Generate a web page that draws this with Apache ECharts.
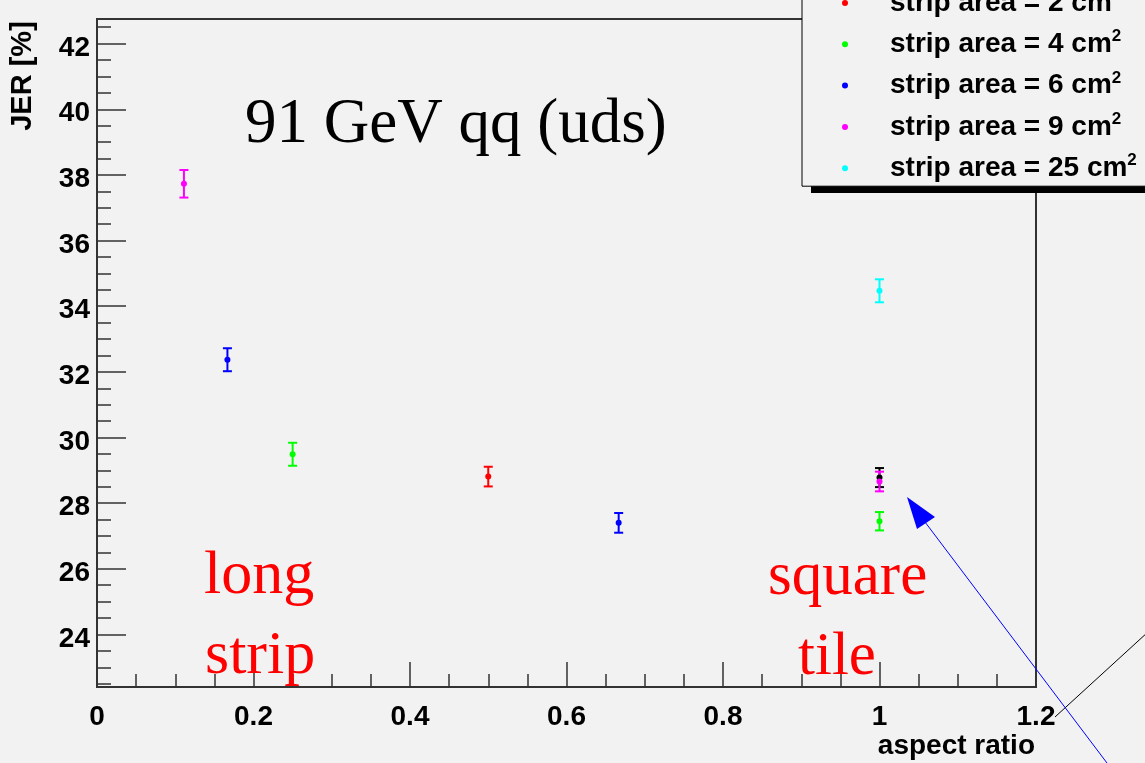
<!DOCTYPE html>
<html>
<head>
<meta charset="utf-8">
<script src="https://cdn.jsdelivr.net/npm/echarts@6/dist/echarts.min.js"></script>
<style>
	html, body { margin: 0; padding: 0; background: #f2f2f2; }
	#main { width: 1145px; height: 763px; }
</style>
</head>
<body>
<div id='main'></div>
<script>
// aspect ratio, JER [%] and its error, one set per strip area
var area1X = [1]
var area1Y = [28.78]
var area1Err = [0.29]

var area2X = [0.5]
var area2Y = [28.81]
var area2Err = [0.3]

var area4X = [0.25, 1]
var area4Y = [29.49, 27.45]
var area4Err = [0.35, 0.28]

var area6X = [1 / 6, 2 / 3]
var area6Y = [32.37, 27.4]
var area6Err = [0.35, 0.3]

var area9X = [1 / 9, 1]
var area9Y = [37.73, 28.66]
var area9Err = [0.42, 0.3]

var area25X = [1]
var area25Y = [34.47]
var area25Err = [0.35]

var xTicks = [0, 0.2, 0.4, 0.6, 0.8, 1, 1.2]
var yTicks = [24, 26, 28, 30, 32, 34, 36, 38, 40, 42]
var yMinorTicks = []
for (var t = 22.5; t <= 42.5; t += 0.5) {
	if (t % 2 !== 0) yMinorTicks.push(t)
}

var sans = '"Liberation Sans", Arial, sans-serif'
var serif = '"Liberation Serif", "Times New Roman", serif'

var groups = [
	{ name: 'strip area = 1 cm²', color: '#000000', x: area1X, y: area1Y, err: area1Err },
	{ name: 'strip area = 2 cm²', color: '#ff0000', x: area2X, y: area2Y, err: area2Err },
	{ name: 'strip area = 4 cm²', color: '#00ff00', x: area4X, y: area4Y, err: area4Err },
	{ name: 'strip area = 6 cm²', color: '#0000ff', x: area6X, y: area6Y, err: area6Err },
	{ name: 'strip area = 9 cm²', color: '#ff00ff', x: area9X, y: area9Y, err: area9Err },
	{ name: 'strip area = 25 cm²', color: '#00ffff', x: area25X, y: area25Y, err: area25Err },
]
var legendNames = groups.slice(1).map(function (g) {
	return g.name
})

function errorBar(params, api) {
	var x = api.value(0)
	var y = api.value(1)
	var e = api.value(2)
	var top = api.coord([x, y + e])
	var bot = api.coord([x, y - e])
	var hw = 4.5
	var style = { stroke: api.visual('color'), lineWidth: 2 }
	return {
		type: 'group',
		children: [
			{ type: 'line', shape: { x1: top[0], y1: top[1], x2: bot[0], y2: bot[1] }, style: style },
			{ type: 'line', shape: { x1: top[0] - hw, y1: top[1], x2: top[0] + hw, y2: top[1] }, style: style },
			{ type: 'line', shape: { x1: bot[0] - hw, y1: bot[1], x2: bot[0] + hw, y2: bot[1] }, style: style },
		],
	}
}

var series = []
groups.forEach(function (g) {
	var rows = g.x.map(function (x, i) {
		return [x, g.y[i], g.err[i]]
	})
	series.push({
		name: g.name + ' err',
		type: 'custom',
		renderItem: errorBar,
		itemStyle: { color: g.color },
		data: rows,
		z: 3,
	})
	series.push({
		name: g.name,
		type: 'scatter',
		symbol: 'circle',
		symbolSize: 6,
		itemStyle: { color: g.color, opacity: 1 },
		data: rows,
		z: 4,
	})
})

var axisColor = '#333333'

var chart = echarts.init(document.getElementById('main'))
var option = {
	animation: false,
	backgroundColor: '#f2f2f2',
	grid: {
		left: 97,
		right: 109,
		top: 19,
		bottom: 76,
		show: true,
		borderColor: axisColor,
		borderWidth: 2,
		backgroundColor: 'transparent',
	},
	legend: {
		data: legendNames,
		orient: 'vertical',
		left: 802,
		top: -23,
		padding: [10, 60, 4, 40],
		itemGap: 11.3,
		itemWidth: 80,
		itemHeight: 6,
		icon: 'circle',
		backgroundColor: '#f2f2f2',
		borderColor: '#000',
		borderWidth: 1,
		z: 6,
		formatter: function (name) {
			return '{a|' + name.slice(0, -1) + '}{sup|2}'
		},
		textStyle: {
			color: '#000',
			rich: {
				a: { fontFamily: sans, fontWeight: 'bold', fontSize: 28, lineHeight: 32, color: '#000' },
				sup: { fontFamily: sans, fontWeight: 'bold', fontSize: 17, verticalAlign: 'top', color: '#000' },
			},
		},
	},
	xAxis: {
		type: 'value',
		min: 0,
		max: 1.2,
		interval: 0.2,
		axisLine: { lineStyle: { color: axisColor, width: 2 } },
		axisTick: { inside: true, length: 25, lineStyle: { color: axisColor, width: 1.5 } },
		minorTick: { show: true, splitNumber: 4, length: 13, lineStyle: { color: axisColor, width: 1.5 } },
		splitLine: { show: false },
		axisLabel: {
			margin: 16,
			color: '#000',
			fontFamily: sans,
			fontWeight: 'bold',
			fontSize: 28,
			customValues: xTicks,
		},
	},
	yAxis: [
		{
			type: 'value',
			min: 22.4,
			max: 42.75,
			axisLine: { show: true, lineStyle: { color: axisColor, width: 2 } },
			axisTick: { inside: true, length: 29, customValues: yTicks, lineStyle: { color: axisColor, width: 1.5 } },
			splitLine: { show: false },
			axisLabel: {
				customValues: yTicks,
				margin: 7,
				verticalAlign: 'top',
				lineHeight: 9,
				color: '#000',
				fontFamily: sans,
				fontWeight: 'bold',
				fontSize: 28,
			},
		},
		{
			type: 'value',
			min: 22.4,
			max: 42.75,
			position: 'left',
			axisLine: { show: false },
			axisTick: { show: true, inside: true, length: 14, customValues: yMinorTicks, lineStyle: { color: axisColor, width: 1.5 } },
			splitLine: { show: false },
			axisLabel: { show: false },
		},
	],
	graphic: [
		// solid drop shadow under the legend box
		{
			type: 'rect',
			z: 5,
			shape: { x: 811, y: -40, width: 400, height: 233 },
			style: { fill: '#000' },
		},
		{
			type: 'text',
			x: 23,
			y: 76,
			rotation: Math.PI / 2,
			z: 10,
			style: { text: 'JER [%]', fill: '#000', font: 'bold 29px ' + sans, textAlign: 'center', textVerticalAlign: 'middle', align: 'center', verticalAlign: 'middle' },
		},
		{
			type: 'text',
			x: 1035,
			y: 746,
			z: 10,
			style: { text: 'aspect ratio', fill: '#000', font: 'bold 28px ' + sans, textAlign: 'right', textVerticalAlign: 'middle', align: 'right', verticalAlign: 'middle' },
		},
		{
			type: 'text',
			x: 245,
			y: 125,
			z: 10,
			style: { text: '91 GeV qq (uds)', fill: '#000', font: '63px ' + serif, textAlign: 'left', textVerticalAlign: 'middle', align: 'left', verticalAlign: 'middle' },
		},
		{
			type: 'text',
			x: 204,
			y: 577,
			z: 10,
			style: { text: 'long', fill: '#ff0000', font: '62px ' + serif, textAlign: 'left', textVerticalAlign: 'middle', align: 'left', verticalAlign: 'middle' },
		},
		{
			type: 'text',
			x: 205,
			y: 657,
			z: 10,
			style: { text: 'strip', fill: '#ff0000', font: '62px ' + serif, textAlign: 'left', textVerticalAlign: 'middle', align: 'left', verticalAlign: 'middle' },
		},
		{
			type: 'text',
			x: 768,
			y: 578,
			z: 10,
			style: { text: 'square', fill: '#ff0000', font: '61px ' + serif, textAlign: 'left', textVerticalAlign: 'middle', align: 'left', verticalAlign: 'middle' },
		},
		{
			type: 'text',
			x: 798,
			y: 658,
			z: 10,
			style: { text: 'tile', fill: '#ff0000', font: '61px ' + serif, textAlign: 'left', textVerticalAlign: 'middle', align: 'left', verticalAlign: 'middle' },
		},
		// pointer lines drawn on top of the frame
		{
			type: 'line',
			z: 10,
			shape: { x1: 1055, y1: 717, x2: 1160, y2: 621 },
			style: { stroke: '#000', lineWidth: 1 },
		},
		{
			type: 'line',
			z: 10,
			shape: { x1: 925, y1: 522, x2: 1110, y2: 767 },
			style: { stroke: '#0000ff', lineWidth: 1 },
		},
		{
			type: 'polygon',
			z: 10,
			shape: { points: [[907, 497], [917, 529], [935, 517]] },
			style: { fill: '#0000ff' },
		},
	],
	series: series,
}
chart.setOption(option)
</script>
</body>
</html>
